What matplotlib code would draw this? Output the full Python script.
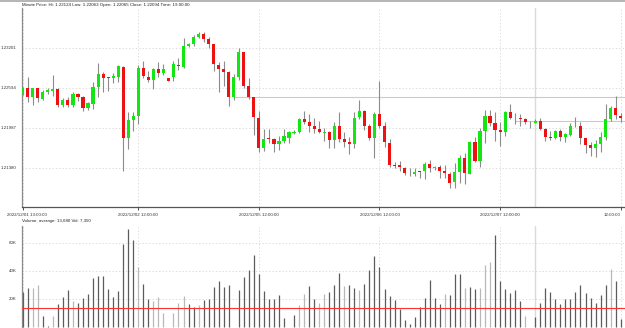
import numpy as np
import matplotlib.pyplot as plt
from matplotlib.lines import Line2D
from matplotlib.transforms import ScaledTranslation

# hourly candles, EUR/USD-like quotes
opens = [1.22508, 1.22589, 1.22462, 1.22589, 1.22427, 1.22538, 1.22554, 1.22574, 1.22336, 1.22417,
         1.22336, 1.22503, 1.22457, 1.22296, 1.22356, 1.22614, 1.22812, 1.22756, 1.22751, 1.22766,
         1.22918, 1.21840, 1.22108, 1.22174, 1.22903, 1.22766, 1.22715, 1.22887, 1.22817, 1.22741,
         1.22756, 1.22948, 1.22913, 1.23231, 1.23267, 1.23363, 1.23408, 1.23338, 1.23257, 1.22948,
         1.22887, 1.22837, 1.22462, 1.22756, 1.23135, 1.22619, 1.22457, 1.22134, 1.21678, 1.21830,
         1.21820, 1.21744, 1.21790, 1.21840, 1.21911, 1.21926, 1.22124, 1.22073, 1.22017, 1.21967,
         1.21916, 1.21931, 1.21805, 1.22022, 1.21820, 1.21780, 1.21744, 1.22154, 1.22240, 1.22017,
         1.21835, 1.22205, 1.22012, 1.21759, 1.21426, 1.21426, 1.21385, 1.21324, 1.21284, 1.21324,
         1.21334, 1.21436, 1.21380, 1.21390, 1.21334, 1.21294, 1.21162, 1.21324, 1.21527, 1.21294,
         1.21769, 1.21486, 1.21941, 1.22174, 1.22063, 1.21957, 1.21921, 1.22230, 1.22144, 1.22134,
         1.22124, 1.22083, 1.22065, 1.22093, 1.21967, 1.21850, 1.21840, 1.21941, 1.21855, 1.21881,
         1.22033, 1.22022, 1.21830, 1.21724, 1.21689, 1.21744, 1.21845, 1.22124, 1.22296, 1.22174]
highs = [1.22609, 1.22761, 1.22594, 1.22599, 1.22564, 1.22589, 1.22786, 1.22589, 1.22447, 1.22457,
         1.22533, 1.22513, 1.22478, 1.22387, 1.22680, 1.22978, 1.22842, 1.22766, 1.22817, 1.22943,
         1.22933, 1.22225, 1.22225, 1.22943, 1.23004, 1.22852, 1.22903, 1.22983, 1.22953, 1.22751,
         1.23004, 1.23044, 1.23348, 1.23272, 1.23398, 1.23449, 1.23439, 1.23368, 1.23267, 1.22983,
         1.23004, 1.22852, 1.22806, 1.23196, 1.23145, 1.22751, 1.22462, 1.22245, 1.21972, 1.21972,
         1.21840, 1.21871, 1.21977, 1.21941, 1.21962, 1.22134, 1.22240, 1.22194, 1.22134, 1.22093,
         1.21982, 1.21941, 1.22083, 1.22225, 1.21921, 1.21855, 1.22225, 1.22407, 1.22255, 1.22053,
         1.22225, 1.22700, 1.22083, 1.21820, 1.21476, 1.21481, 1.21390, 1.21375, 1.21385, 1.21334,
         1.21476, 1.21496, 1.21415, 1.21426, 1.21426, 1.21324, 1.21451, 1.21577, 1.21603, 1.21790,
         1.21855, 1.21982, 1.22255, 1.22260, 1.22235, 1.22083, 1.22245, 1.22351, 1.22210, 1.22205,
         1.22134, 1.22093, 1.22124, 1.22144, 1.21982, 1.21941, 1.21957, 1.21972, 1.21906, 1.22058,
         1.22159, 1.22083, 1.21840, 1.21780, 1.21805, 1.21931, 1.22346, 1.22321, 1.22478, 1.22210]
lows = [1.22493, 1.22387, 1.22336, 1.22387, 1.22407, 1.22498, 1.22473, 1.22306, 1.22311, 1.22306,
        1.22311, 1.22397, 1.22240, 1.22265, 1.22275, 1.22462, 1.22538, 1.22548, 1.22675, 1.22680,
        1.21340, 1.21668, 1.21941, 1.22053, 1.22751, 1.22690, 1.22584, 1.22761, 1.22791, 1.22700,
        1.22700, 1.22867, 1.22892, 1.23216, 1.23226, 1.23348, 1.23287, 1.23206, 1.22852, 1.22538,
        1.22624, 1.22326, 1.22407, 1.22715, 1.22594, 1.22432, 1.21876, 1.21623, 1.21638, 1.21754,
        1.21618, 1.21658, 1.21764, 1.21759, 1.21901, 1.21916, 1.22053, 1.21931, 1.21916, 1.21911,
        1.21790, 1.21678, 1.21678, 1.21769, 1.21699, 1.21587, 1.21689, 1.22119, 1.21957, 1.21805,
        1.21537, 1.21982, 1.21694, 1.21400, 1.21375, 1.21334, 1.21274, 1.21264, 1.21264, 1.21233,
        1.21213, 1.21324, 1.21350, 1.21233, 1.21233, 1.21071, 1.21082, 1.21147, 1.21142, 1.21284,
        1.21476, 1.21400, 1.21754, 1.22012, 1.21790, 1.21719, 1.21871, 1.22124, 1.22053, 1.22022,
        1.22048, 1.21992, 1.22063, 1.21957, 1.21795, 1.21805, 1.21820, 1.21795, 1.21769, 1.21871,
        1.22007, 1.21739, 1.21603, 1.21562, 1.21552, 1.21628, 1.21805, 1.22093, 1.22124, 1.22073]
closes = [1.22589, 1.22462, 1.22589, 1.22437, 1.22538, 1.22559, 1.22579, 1.22336, 1.22412, 1.22341,
          1.22503, 1.22462, 1.22296, 1.22361, 1.22609, 1.22812, 1.22741, 1.22746, 1.22776, 1.22923,
          1.21840, 1.22108, 1.22169, 1.22903, 1.22776, 1.22720, 1.22882, 1.22827, 1.22882, 1.22705,
          1.22953, 1.22928, 1.23231, 1.23262, 1.23368, 1.23413, 1.23343, 1.23262, 1.22953, 1.22882,
          1.22842, 1.22462, 1.22756, 1.23135, 1.22624, 1.22462, 1.22159, 1.21678, 1.21825, 1.21820,
          1.21744, 1.21790, 1.21871, 1.21926, 1.21931, 1.22129, 1.22083, 1.22022, 1.21977, 1.21921,
          1.21931, 1.21805, 1.22022, 1.21820, 1.21780, 1.21744, 1.22144, 1.22240, 1.22022, 1.21835,
          1.22205, 1.22017, 1.21769, 1.21426, 1.21410, 1.21390, 1.21309, 1.21314, 1.21324, 1.21319,
          1.21436, 1.21385, 1.21390, 1.21334, 1.21299, 1.21157, 1.21324, 1.21527, 1.21299, 1.21769,
          1.21486, 1.21941, 1.22174, 1.22063, 1.21957, 1.21921, 1.22230, 1.22144, 1.22134, 1.22124,
          1.22083, 1.22073, 1.22094, 1.21972, 1.21850, 1.21840, 1.21941, 1.21855, 1.21891, 1.22022,
          1.22027, 1.21830, 1.21729, 1.21689, 1.21739, 1.21845, 1.22124, 1.22296, 1.22184, 1.22144]
volumes = [25000, 27600, 27600, 30000, 7900, 500, 7600, 16400, 21400, 26400,
           18800, 17100, 21000, 23300, 35200, 36400, 36200, 27100, 21400, 25500,
           59500, 70000, 62100, 43100, 30700, 19800, 18800, 21400, 10000, 300,
           10200, 17400, 22400, 16400, 14300, 15700, 19000, 20200, 28300, 32600,
           28600, 30000, 300, 26400, 35700, 40500, 51400, 37900, 25500, 20000,
           20000, 22600, 6700, 200, 8600, 16000, 23600, 29300, 20000, 17400,
           23600, 24800, 29800, 38600, 29300, 30000, 27600, 26400, 30500, 40700,
           50700, 42900, 26900, 22400, 19500, 12900, 5000, 2100, 7100, 14000,
           20500, 33600, 20500, 16700, 23600, 22600, 38100, 38100, 27600, 28600,
           27400, 27600, 44000, 46200, 65500, 33100, 26900, 24300, 26400, 18800,
           7900, 200, 7350, 17100, 27600, 25000, 20000, 16400, 19800, 19800,
           25000, 30000, 24300, 21000, 17100, 22900, 29800, 41700, 32900, 6000]
# bars drawn in light gray
light_bars = [2, 3, 6, 10, 23, 26, 27, 28, 30, 31, 32, 35, 55, 56, 59, 60,
              64, 67, 84, 88, 91, 92, 93, 100, 117]

date_ticks = [0, 23, 47, 71, 95, 119]
date_labels = ["2022/12/01 13:00:00", "2022/12/02 12:00:00", "2022/12/05 12:00:00",
               "2022/12/06 12:00:00", "2022/12/07 12:00:00", "12:00:00"]
price_ticks = [1.21380, 1.21987, 1.22594, 1.23201]
vol_ticks = [20000, 40000, 60000]
vol_labels = ["20K", "40K", "60K"]
vol_avg = 13680
cursor = 102
level_price = 1.22460
level_start = 42
close_start = 98

header = "Minute Price: Hi: 1.22124 Low: 1.22063 Open: 1.22065 Close: 1.22094 Time: 19:00:00"
vol_header = "Volume, average: 13,680 Vol: 7,350"

plt.rcParams['font.family'] = ['Liberation Sans', 'DejaVu Sans']
FS = 3.2
W, H = 625, 328
fig = plt.figure(figsize=(W / 100, H / 100), dpi=100)
fig.patch.set_facecolor('white')

ax1 = fig.add_axes([22 / W, 1 - 207 / H, 603 / W, 199 / H])
ax2 = fig.add_axes([22 / W, 0, 603 / W, 102 / H])

x = np.arange(len(opens))
o = np.array(opens)
c = np.array(closes)
up = c >= o
green = '#14e614'
red = '#ee1111'

# wicks then bodies
ax1.vlines(x, lows, highs, color='#8c8c8c', lw=0.8, zorder=2)
body_h = np.maximum(np.abs(c - o), 0.00012)
ax1.bar(x, body_h, bottom=np.minimum(o, c), width=0.62,
        color=np.where(up, green, red), linewidth=0, zorder=3)

ax1.axvline(cursor, color='#dadada', lw=1.0, zorder=1)
ax1.hlines(level_price, level_start, 120, color='#f6b8b8', lw=0.8, zorder=1)
ax1.hlines(closes[cursor], close_start, 120, color='#f6b8b8', lw=0.8, zorder=1)

ax1.set_xlim(-0.14, 119.86)
ax1.set_ylim(1.20788, 1.23808)
ax1.set_yticks(price_ticks)
ax1.set_yticklabels([f"{p:.5f}" for p in price_ticks])
ax1.set_xticks(date_ticks)
ax1.set_xticklabels(date_labels)
ax1.tick_params(axis='y', length=0, pad=4, labelsize=FS, colors='#333333')
ax1.tick_params(axis='x', length=2, width=0.6, pad=2, labelsize=FS, colors='#333333')
# nudge the edge labels so they stay inside the picture
xl = ax1.get_xticklabels()
xl[0].set_transform(xl[0].get_transform() + ScaledTranslation(4 / 100, 0, fig.dpi_scale_trans))
xl[-1].set_horizontalalignment('right')
ax1.grid(True, color='#d4d4d4', lw=0.6, linestyle=(0, (1.5, 2.5)))
ax1.set_axisbelow(True)
for s in ['top', 'right']:
    ax1.spines[s].set_visible(False)
ax1.spines['left'].set_color('#8a8a8a')
ax1.spines['bottom'].set_color('#555555')
ax1.spines['left'].set_linewidth(0.9)
ax1.spines['bottom'].set_linewidth(0.9)

# volume panel
vcol = ['#b8b8b8' if i in light_bars else '#5c5c5c' for i in x]
ax2.vlines(x, 0, volumes, colors=vcol, lw=0.9, zorder=2)
ax2.axhline(vol_avg, color='#ff3030', lw=0.8, zorder=3)
ax2.axvline(cursor, color='#dadada', lw=1.0, zorder=1)
ax2.set_xlim(-0.14, 119.86)
ax2.set_ylim(-714, 72140)
ax2.set_yticks(vol_ticks)
ax2.set_yticklabels(vol_labels)
ax2.set_xticks(date_ticks)
ax2.tick_params(axis='x', length=0, labelbottom=False)
ax2.tick_params(axis='y', length=0, pad=4, labelsize=FS, colors='#333333')
ax2.grid(True, color='#d4d4d4', lw=0.6, linestyle=(0, (1.5, 2.5)))
ax2.set_axisbelow(True)
for s in ['top', 'right', 'bottom']:
    ax2.spines[s].set_visible(False)
ax2.spines['left'].set_color('#8a8a8a')
ax2.spines['left'].set_linewidth(0.9)

fig.text(22 / W, 1 - 5 / H, header, fontsize=FS, va='center', ha='left', color='#222222')
fig.text(22 / W, 1 - 221 / H, vol_header, fontsize=FS, va='center', ha='left', color='#222222')
fig.add_artist(Line2D([0, 1], [1 - 0.6 / H, 1 - 0.6 / H], color='#a8a8a8', lw=1.2))

fig.savefig('out.png', dpi=100, facecolor='white')
